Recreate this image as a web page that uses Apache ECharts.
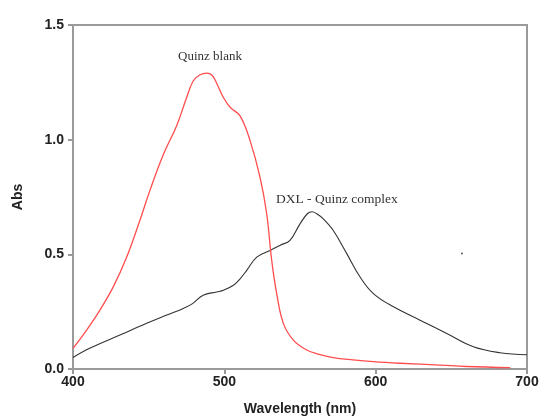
<!DOCTYPE html>
<html><head><meta charset="utf-8">
<script src="https://cdn.jsdelivr.net/npm/echarts@6/dist/echarts.min.js"></script>
<style>html,body{margin:0;padding:0;background:#fff}#c{width:543px;height:416px}</style>
</head><body><div id="c"></div>
<script>
const xTicks = [400, 500, 600, 700];
const yTicks = [0.0, 0.5, 1.0, 1.5];
const blankWl = [400,409,417.8,426.6,435.5,444.3,450.9,459.7,468.5,475.1,479.5,484,488.4,492,495,499.4,504,510.4,517,523.6,528,531.3,534.6,539,545.6,554.4,562,572,585,598.5,616,642.6,660,689];
const blankAbs = [0.090,0.170,0.257,0.358,0.488,0.650,0.780,0.935,1.061,1.184,1.257,1.283,1.290,1.280,1.245,1.184,1.140,1.104,0.996,0.836,0.677,0.474,0.329,0.199,0.126,0.083,0.065,0.050,0.040,0.032,0.025,0.017,0.011,0.006];
const complexWl = [400,411,431,448.7,462,472.9,479,486,495,499.4,506,510,514.8,521.4,530.2,537,543.4,550,555,558,561,565.4,572,580.9,589.7,598.5,611.8,629.3,647,664.6,682.2,700];
const complexAbs = [0.050,0.090,0.148,0.199,0.235,0.264,0.285,0.322,0.336,0.343,0.365,0.390,0.430,0.488,0.517,0.540,0.561,0.633,0.678,0.686,0.677,0.655,0.604,0.503,0.401,0.329,0.271,0.213,0.155,0.097,0.071,0.062];
const strayDot = [[657, 0.504]];

const chart = echarts.init(document.getElementById('c'));
const axisLine = {show:true, lineStyle:{color:'#9a9a9a', width:2}};
const tickLab = {color:'#222', fontWeight:'bold', fontSize:14, fontFamily:'Liberation Sans, Arial, sans-serif'};
chart.setOption({
  animation:false,
  grid:{left:73, right:16, top:25, bottom:47, show:true, borderColor:'#9a9a9a', borderWidth:2, containLabel:false, outerBoundsMode:'none'},
  xAxis:{type:'value', min:400, max:700, interval:100,
    name:'Wavelength (nm)', nameLocation:'middle', nameGap:33,
    nameTextStyle:{color:'#222', fontWeight:'bold', fontSize:14, fontFamily:'Liberation Sans, Arial, sans-serif'},
    axisLine:axisLine, axisTick:{show:true, length:5, lineStyle:{color:'#9a9a9a', width:2}},
    axisLabel:Object.assign({margin:6, formatter:v=>xTicks.includes(v)?String(v):''}, tickLab),
    splitLine:{show:false}},
  yAxis:{type:'value', min:0, max:1.5, interval:0.5,
    name:'Abs', nameLocation:'middle', nameGap:48, nameRotate:90,
    nameTextStyle:{color:'#222', fontWeight:'bold', fontSize:14, fontFamily:'Liberation Sans, Arial, sans-serif'},
    axisLine:axisLine, axisTick:{show:true, length:5, lineStyle:{color:'#9a9a9a', width:2}},
    axisLabel:Object.assign({margin:9, formatter:v=>v.toFixed(1)}, tickLab),
    splitLine:{show:false}},
  series:[
    {type:'line', data:blankWl.map((x,i)=>[x,blankAbs[i]]), smooth:0.4, showSymbol:false,
     lineStyle:{color:'#ff4d4d', width:1.3}, z:3},
    {type:'line', data:complexWl.map((x,i)=>[x,complexAbs[i]]), smooth:0.4, showSymbol:false,
     lineStyle:{color:'#333', width:1.1}, z:2},
    {type:'scatter', data:strayDot, symbolSize:2, itemStyle:{color:'#333'}}
  ],
  graphic:[
    {type:'text', left:178, top:50, style:{text:'Quinz blank', font:'13px "Liberation Serif", "Times New Roman", serif', fill:'#333'}},
    {type:'text', left:276, top:192, style:{text:'DXL - Quinz complex', font:'13.5px "Liberation Serif", "Times New Roman", serif', fill:'#333'}}
  ]
});
</script></body></html>
